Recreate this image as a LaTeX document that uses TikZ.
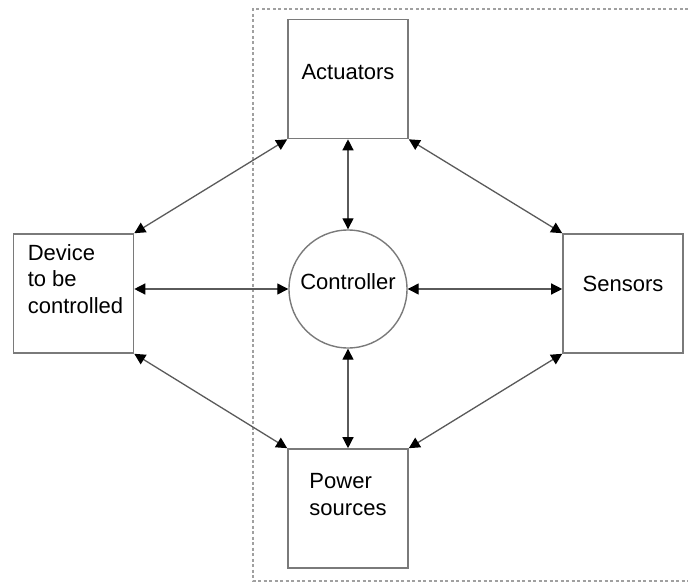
\documentclass[tikz,border=0pt]{standalone}
\usepackage{fontspec}
\setmainfont{Liberation Sans}
\usetikzlibrary{arrows.meta,positioning}
\definecolor{boxgray}{HTML}{7A7A7A}
\definecolor{linkgray}{HTML}{5A5A5A}
\definecolor{framegray}{HTML}{A0A0A0}

\begin{document}
\begin{tikzpicture}[
x=1pt,y=-1pt,
>={Triangle[length=11pt,width=11pt,color=black]},
box/.style={
  draw=boxgray,
  line width=1.6pt,
  minimum width=120pt,
  minimum height=119pt,
  inner sep=0pt
},
ctrl/.style={
  draw=boxgray,
  line width=1.4pt,
  circle,
  minimum size=118pt,
  inner sep=0pt
},
txt/.style={
  font=\fontsize{22}{26.5}\selectfont,
  align=left,
  anchor=center,
  inner sep=0pt
},
link/.style={
  draw=linkgray,
  line width=1.3pt,
  <->
},
frame/.style={
  draw=framegray,
  line width=1.5pt,
  dash pattern=on 3pt off 2.5pt
}
]
\useasboundingbox (0,0) rectangle (688,583);

% dashed border round the controller side
\coordinate (f1) at (688,9);
\coordinate (f2) at (253,581);
\coordinate (f3) at (688,581);
\draw[frame] (f1) -| (f2) -- (f3);

\node[box,label={[txt,yshift=7pt]center:Actuators}]
  (act) at (348,79) {};
\node[box,label={[txt,xshift=2pt,yshift=14.5pt]center:Device\\to be\\controlled}]
  (dev) at (73.5,293.5) {};
\node[box,label={[txt,yshift=9.5pt]center:Sensors}]
  (sen) at (623,293.5) {};
\node[box,label={[txt,yshift=14pt]center:Power\\sources}]
  (pow) at (348,508.5) {};
\node[ctrl,label={[txt,yshift=7pt]center:Controller}]
  (con) at (348,289) {};

\draw[link] (act.south west) -- (dev.north east);
\draw[link] (act.south east) -- (sen.north west);
\draw[link] (dev.south east) -- (pow.north west);
\draw[link] (sen.south west) -- (pow.north east);
\draw[link] (act.south) -- (con.north);
\draw[link] (con.south) -- (pow.north);
\draw[link] (dev.east |- con.west) -- (con.west);
\draw[link] (con.east) -- (sen.west |- con.east);
\end{tikzpicture}
\end{document}
